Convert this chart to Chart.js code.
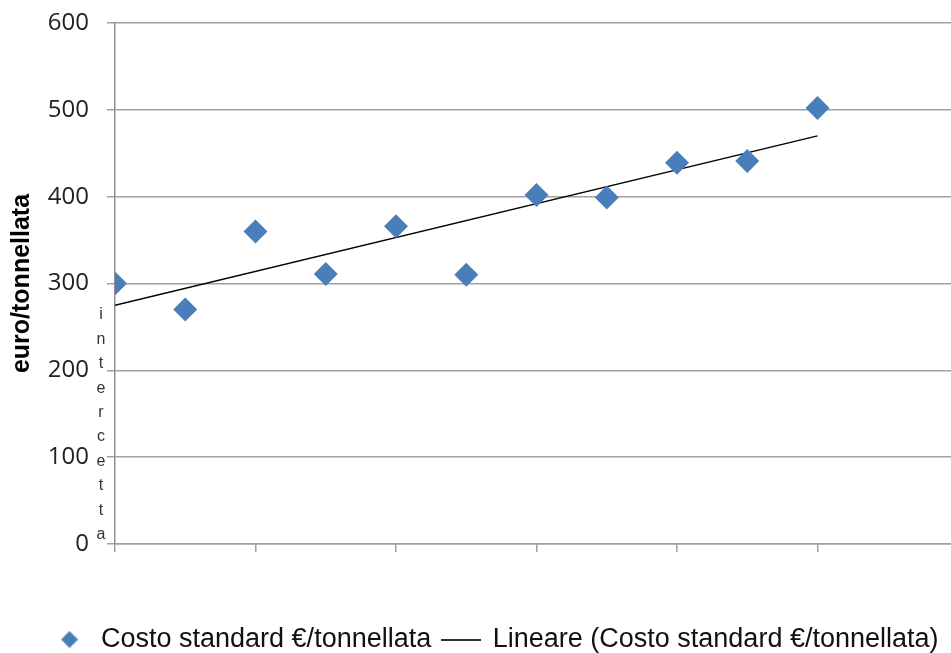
<!DOCTYPE html>
<html>
<head>
<meta charset="utf-8">
<script src="https://cdn.jsdelivr.net/npm/chart.js@4/dist/chart.umd.min.js"></script>
<style>
  html, body { margin: 0; padding: 0; background: #fff; overflow: hidden; }
  #wrap { width: 991px; height: 653px; }
</style>
</head>
<body>
<div id="wrap"><canvas id="grafico" width="991" height="653"></canvas></div>
<script>
'use strict';

// punti (anno progressivo, costo standard)
var anni = [0, 1, 2, 3, 4, 5, 6, 7, 8, 9, 10];
var costi = [300, 270, 360, 311, 366, 310, 402, 399, 439, 441, 502];

// linea di tendenza lineare
var tendenzaX = [0, 10];
var tendenzaY = [275, 470];

var etichettaSerie = 'Costo standard €/tonnellata';
var etichettaTendenza = 'Lineare (Costo standard €/tonnellata)';
var titoloAsseY = 'euro/tonnellata';
var testoVerticale = 'intercetta';

var yMin = 0, yMax = 600, yPasso = 100;
var xMin = 0, xMax = 12, xPasso = 2;

var blu = '#4a7ebb';
var grigio = '#a0a0a0';

// simboli della legenda disegnati a parte, cosi' il rombo non si allarga
var diamante = document.createElement('canvas');
diamante.width = 18; diamante.height = 18;
(function () {
    var c = diamante.getContext('2d');
    c.fillStyle = blu;
    c.beginPath();
    c.moveTo(9, 0.5); c.lineTo(17.5, 9); c.lineTo(9, 17.5); c.lineTo(0.5, 9);
    c.closePath();
    c.fill();
})();

var lineetta = document.createElement('canvas');
lineetta.width = 40; lineetta.height = 2;
(function () {
    var c = lineetta.getContext('2d');
    c.fillStyle = 'rgba(0,0,0,0.8)';
    c.fillRect(0, 0, 40, 2);
})();

// scritta verticale lettera per lettera vicino all'asse
var letteraPerLettera = {
    id: 'letteraPerLettera',
    afterLayout: function (chart) {
        // la legenda nell'originale e' centrata sulla finestra, non sull'area con il margine destro
        if (chart.legend) chart.legend.right += 32;
    },
    afterDraw: function (chart) {
        var ctx = chart.ctx;
        ctx.save();
        ctx.font = '16px "Liberation Sans", Arial, sans-serif';
        ctx.fillStyle = '#333';
        ctx.textAlign = 'center';
        ctx.textBaseline = 'middle';
        for (var i = 0; i < testoVerticale.length; i++) {
            ctx.fillText(testoVerticale[i], 101, 315 + i * 24.4);
        }
        ctx.restore();
    }
};

new Chart(document.getElementById('grafico').getContext('2d'), {
    type: 'scatter',
    data: {
        datasets: [
            {
                label: etichettaSerie,
                data: anni.map(function (x, i) { return { x: x, y: costi[i] }; }),
                backgroundColor: blu,
                borderColor: blu,
                borderWidth: 0,
                pointStyle: 'rectRot',
                pointRadius: 12,
                pointHoverRadius: 12,
                order: 1
            },
            {
                type: 'line',
                label: etichettaTendenza,
                data: tendenzaX.map(function (x, i) { return { x: x, y: tendenzaY[i] }; }),
                borderColor: '#000',
                backgroundColor: '#000',
                borderWidth: 1.5,
                pointRadius: 0,
                pointStyle: 'line',
                fill: false,
                order: 2
            }
        ]
    },
    options: {
        responsive: false,
        devicePixelRatio: 1,
        animation: false,
        layout: { padding: { top: 23, right: 33, left: 0, bottom: -10 } },
        plugins: {
            tooltip: { enabled: false },
            legend: {
                position: 'bottom',
                labels: {
                    usePointStyle: true,
                    pointStyleWidth: 36,
                    boxHeight: 12,
                    padding: 12,
                    color: '#111',
                    font: { family: '"Liberation Sans", Arial, sans-serif', size: 27 },
                    generateLabels: function (chart) {
                        var items = Chart.defaults.plugins.legend.labels.generateLabels(chart);
                        items[0].pointStyle = diamante;
                        items[1].pointStyle = lineetta;
                        return items;
                    }
                }
            }
        },
        scales: {
            x: {
                type: 'linear',
                min: xMin,
                max: xMax,
                ticks: { display: false, stepSize: xPasso },
                grid: { drawOnChartArea: false, drawTicks: true, tickLength: 8, color: grigio, lineWidth: 1.5 },
                border: { color: grigio, width: 1.5 },
                afterFit: function (scale) { scale.height = 70; }
            },
            y: {
                min: yMin,
                max: yMax,
                ticks: {
                    stepSize: yPasso,
                    padding: 18,
                    color: '#222',
                    font: { family: '"Open Sans", sans-serif', size: 24 }
                },
                grid: { color: grigio, lineWidth: 1.5, tickLength: 8 },
                border: { color: '#909090', width: 1.5 },
                title: {
                    display: true,
                    text: titoloAsseY,
                    color: '#000',
                    padding: { top: 7, bottom: 0 },
                    font: { family: '"Liberation Sans", Arial, sans-serif', size: 25, weight: 'bold' }
                },
                afterFit: function (scale) {
                    scale.width = 115;
                    scale.paddingTop = 8;
                    scale.paddingBottom = 8;
                }
            }
        }
    },
    plugins: [letteraPerLettera]
});
</script>
</body>
</html>
